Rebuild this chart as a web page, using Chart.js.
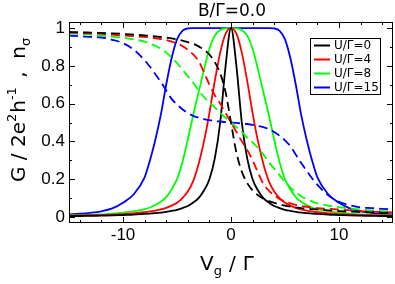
<!DOCTYPE html>
<html lang="en">
<head>
  <meta charset="UTF-8" />
  <title>Conductance and occupation vs gate voltage</title>
  <script src="https://cdn.jsdelivr.net/npm/chart.js"></script>
  <style>
    html, body { margin: 0; padding: 0; background: #fff; }
    .chart-container { width: 395px; height: 284px; position: relative; }
  </style>
</head>
<body>
  <div class="chart-container">
    <canvas id="gChart" width="395" height="284"></canvas>
  </div>

  <script>
    // gate voltage V_g / Gamma
    const vg = [-15, -14, -13, -12, -11, -10, -9, -8, -7.5, -7, -6.5, -6, -5.5, -5, -4.5, -4, -3.5, -3, -2.5, -2, -1.5, -1, -0.5,
                0, 0.5, 1, 1.5, 2, 2.5, 3, 3.5, 4, 4.5, 5, 5.5, 6, 6.5, 7, 7.5, 8, 9, 10, 11, 12, 13, 14, 15];

    // conductance G / 2e^2h^-1 (solid lines)
    const gU0 = [0.0045, 0.005, 0.006, 0.007, 0.008, 0.010, 0.012, 0.016, 0.018, 0.02, 0.023, 0.027, 0.032, 0.038, 0.047, 0.058, 0.076, 0.10, 0.14, 0.20, 0.31, 0.50, 0.80,
                 1.0, 0.80, 0.50, 0.31, 0.20, 0.14, 0.10, 0.076, 0.058, 0.047, 0.038, 0.032, 0.027, 0.023, 0.02, 0.018, 0.016, 0.012, 0.010, 0.008, 0.007, 0.006, 0.005, 0.0045];
    const gU4 = [0.007, 0.008, 0.009, 0.010, 0.012, 0.015, 0.019, 0.025, 0.029, 0.034, 0.04, 0.048, 0.06, 0.075, 0.10, 0.135, 0.19, 0.28, 0.40, 0.55, 0.72, 0.87, 0.97,
                 1.0, 0.97, 0.87, 0.72, 0.55, 0.40, 0.28, 0.19, 0.135, 0.10, 0.075, 0.06, 0.048, 0.04, 0.034, 0.029, 0.025, 0.019, 0.015, 0.012, 0.010, 0.009, 0.008, 0.007];
    const gU8 = [0.009, 0.01, 0.012, 0.014, 0.018, 0.023, 0.03, 0.041, 0.05, 0.063, 0.08, 0.105, 0.145, 0.2, 0.29, 0.41, 0.54, 0.66, 0.78, 0.89, 0.96, 0.99, 0.998,
                 1.0, 0.998, 0.99, 0.96, 0.89, 0.78, 0.66, 0.54, 0.41, 0.29, 0.2, 0.145, 0.105, 0.08, 0.063, 0.05, 0.041, 0.03, 0.023, 0.018, 0.014, 0.012, 0.01, 0.009];
    const gU15 = [0.014, 0.017, 0.022, 0.03, 0.045, 0.075, 0.12, 0.21, 0.30, 0.41, 0.54, 0.70, 0.84, 0.94, 0.985, 0.998, 1.0, 1.0, 1.0, 1.0, 1.0, 1.0, 1.0,
                  1.0, 1.0, 1.0, 1.0, 1.0, 1.0, 1.0, 1.0, 0.998, 0.985, 0.94, 0.84, 0.70, 0.54, 0.41, 0.30, 0.21, 0.12, 0.075, 0.045, 0.03, 0.022, 0.017, 0.014];

    // occupation n_sigma (dashed lines)
    const nU0 = [0.979, 0.978, 0.976, 0.974, 0.972, 0.969, 0.965, 0.961, 0.959, 0.956, 0.953, 0.949, 0.945, 0.94, 0.933, 0.925, 0.916, 0.903, 0.885, 0.86, 0.82, 0.76, 0.66,
                 0.5, 0.34, 0.24, 0.18, 0.14, 0.115, 0.097, 0.084, 0.075, 0.067, 0.06, 0.055, 0.051, 0.047, 0.044, 0.041, 0.039, 0.035, 0.031, 0.028, 0.026, 0.024, 0.022, 0.021];
    const nU4 = [0.976, 0.974, 0.972, 0.969, 0.965, 0.96, 0.957, 0.953, 0.95, 0.946, 0.942, 0.936, 0.928, 0.918, 0.905, 0.885, 0.86, 0.825, 0.765, 0.70, 0.645, 0.60, 0.55,
                 0.5, 0.45, 0.40, 0.355, 0.30, 0.235, 0.175, 0.14, 0.115, 0.095, 0.082, 0.072, 0.064, 0.058, 0.054, 0.05, 0.047, 0.043, 0.04, 0.035, 0.031, 0.028, 0.026, 0.024];
    const nU8 = [0.972, 0.969, 0.965, 0.96, 0.955, 0.948, 0.94, 0.928, 0.918, 0.906, 0.89, 0.87, 0.845, 0.815, 0.78, 0.745, 0.71, 0.67, 0.635, 0.605, 0.58, 0.55, 0.525,
                 0.5, 0.475, 0.45, 0.42, 0.395, 0.365, 0.33, 0.29, 0.255, 0.22, 0.185, 0.155, 0.13, 0.11, 0.094, 0.082, 0.072, 0.06, 0.052, 0.045, 0.04, 0.035, 0.031, 0.028];
    const nU15 = [0.96, 0.957, 0.953, 0.95, 0.938, 0.92, 0.885, 0.83, 0.795, 0.755, 0.715, 0.67, 0.625, 0.595, 0.57, 0.55, 0.535, 0.525, 0.518, 0.512, 0.508, 0.505, 0.502,
                  0.5, 0.498, 0.495, 0.492, 0.488, 0.482, 0.475, 0.465, 0.45, 0.43, 0.405, 0.375, 0.33, 0.285, 0.245, 0.205, 0.17, 0.115, 0.08, 0.062, 0.05, 0.047, 0.043, 0.04];

    const seriesLabels = ["U/\u0393=0", "U/\u0393=4", "U/\u0393=8", "U/\u0393=15"];
    const seriesColors = ["#000000", "#ff0000", "#00ff00", "#0000ff"];

    const xTickVals = [-10, 0, 10];
    const xMinorVals = [-14, -12, -8, -6, -4, -2, 2, 4, 6, 8, 12, 14];
    const yTickVals = [0, 0.2, 0.4, 0.6, 0.8, 1];
    const yMinorVals = [0.1, 0.3, 0.5, 0.7, 0.9];

    const FONT = "'DejaVu Sans', sans-serif";
    const TICK_FONT = "'Liberation Sans', Arial, sans-serif";

    function points(ys) {
      return vg.map((v, i) => ({ x: v, y: ys[i] }));
    }

    // draws a row of text pieces, each with its own size / vertical shift
    function drawRich(ctx, parts, x0, y0) {
      let x = x0;
      parts.forEach((p) => {
        x += p.gap || 0;
        ctx.font = `${p.size}px ${FONT}`;
        ctx.fillText(p.t, x, y0 + (p.dy || 0));
        x += ctx.measureText(p.t).width;
      });
      return x - x0;
    }

    // box round the plot, inward ticks on all four sides, titles and legend
    const decorPlugin = {
      id: "decor",
      afterDraw(chart) {
        const { ctx, chartArea: a, scales } = chart;
        const xs = scales.x, ys = scales.y;
        ctx.save();
        ctx.strokeStyle = "#000";
        ctx.fillStyle = "#000";
        ctx.lineWidth = 1;
        ctx.strokeRect(a.left + 0.5, a.top + 0.5, a.right - a.left - 1, a.bottom - a.top - 1);

        ctx.beginPath();
        const xTick = (v, len) => {
          const px = Math.round(xs.getPixelForValue(v)) + 0.5;
          ctx.moveTo(px, a.bottom); ctx.lineTo(px, a.bottom - len);
          ctx.moveTo(px, a.top); ctx.lineTo(px, a.top + len);
        };
        const yTick = (v, len) => {
          const py = Math.round(ys.getPixelForValue(v)) + 0.5;
          ctx.moveTo(a.left, py); ctx.lineTo(a.left + len, py);
          ctx.moveTo(a.right, py); ctx.lineTo(a.right - len, py);
        };
        xTickVals.forEach((v) => xTick(v, 6));
        xMinorVals.forEach((v) => xTick(v, 3));
        yTickVals.forEach((v) => yTick(v, 6));
        yMinorVals.forEach((v) => yTick(v, 3));
        ctx.stroke();

        // title
        ctx.textBaseline = "alphabetic";
        ctx.textAlign = "center";
        ctx.font = `17px ${FONT}`;
        ctx.fillText("B/\u0393=0.0", 232, 16);

        // x axis title
        ctx.textAlign = "left";
        drawRich(ctx, [
          { t: "V", size: 20 },
          { t: "g", size: 13, dy: 5 },
          { t: "/", size: 20, gap: 7 },
          { t: "\u0393", size: 20, gap: 7 }
        ], 200, 270);

        // y axis title (rotated)
        ctx.save();
        ctx.translate(25, 182);
        ctx.rotate(-Math.PI / 2);
        drawRich(ctx, [
          { t: "G / 2e", size: 20 },
          { t: "2", size: 13, dy: -9 },
          { t: "h", size: 20, gap: 1 },
          { t: "-1", size: 13, dy: -9 },
          { t: " ,  n", size: 20, gap: 3 },
          { t: "\u03c3", size: 13, dy: 5 }
        ], 0, 0);
        ctx.restore();

        // legend
        ctx.lineWidth = 1;
        ctx.strokeRect(310.5, 38.5, 70, 56);
        ctx.textBaseline = "middle";
        ctx.font = `12px ${FONT}`;
        seriesLabels.forEach((lab, i) => {
          const yy = 45.5 + i * 14;
          ctx.strokeStyle = seriesColors[i];
          ctx.lineWidth = 2;
          ctx.beginPath();
          ctx.moveTo(314, yy); ctx.lineTo(330, yy);
          ctx.stroke();
          ctx.fillStyle = "#000";
          ctx.fillText(lab, 334, yy + 0.5);
        });
        ctx.restore();
      }
    };

    const gSeries = [gU0, gU4, gU8, gU15];
    const nSeries = [nU0, nU4, nU8, nU15];
    const datasets = [];
    nSeries.forEach((ys, i) => {
      datasets.push({
        label: "n " + seriesLabels[i],
        data: points(ys),
        borderColor: seriesColors[i],
        borderWidth: 1.8,
        borderDash: [9, 5],
        pointRadius: 0,
        fill: false,
        cubicInterpolationMode: "monotone"
      });
    });
    gSeries.forEach((ys, i) => {
      datasets.push({
        label: seriesLabels[i],
        data: points(ys),
        borderColor: seriesColors[i],
        borderWidth: 1.8,
        pointRadius: 0,
        fill: false,
        cubicInterpolationMode: "monotone"
      });
    });

    const ctx = document.getElementById("gChart").getContext("2d");
    new Chart(ctx, {
      type: "line",
      data: { datasets: datasets },
      options: {
        responsive: false,
        animation: false,
        devicePixelRatio: 1,
        layout: { padding: { top: 22, right: 2, left: 0, bottom: 0 } },
        plugins: {
          legend: { display: false },
          title: { display: false },
          tooltip: { enabled: false }
        },
        scales: {
          x: {
            type: "linear",
            min: -15,
            max: 15,
            afterBuildTicks: (s) => { s.ticks = xTickVals.map((v) => ({ value: v })); },
            afterFit: (s) => { s.height = 61; },
            grid: { display: false, drawTicks: false },
            border: { display: false },
            ticks: {
              color: "#000",
              font: { family: TICK_FONT, size: 17 },
              padding: 2,
              maxRotation: 0,
              autoSkip: false
            }
          },
          y: {
            min: -0.032,
            max: 1.032,
            afterBuildTicks: (s) => { s.ticks = yTickVals.map((v) => ({ value: v })); },
            afterFit: (s) => { s.width = 69; },
            grid: { display: false, drawTicks: false },
            border: { display: false },
            ticks: {
              color: "#000",
              font: { family: TICK_FONT, size: 17 },
              padding: 4,
              callback: (v) => String(v)
            }
          }
        }
      },
      plugins: [decorPlugin]
    });
  </script>
</body>
</html>
